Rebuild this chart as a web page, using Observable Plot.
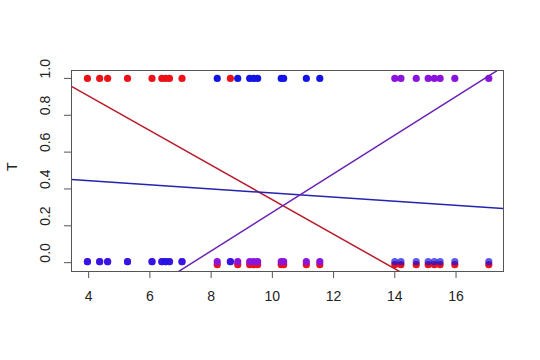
<!DOCTYPE html>
<html>
<head>
<meta charset="utf-8">
<script src="https://cdn.jsdelivr.net/npm/d3@7"></script>
<script src="https://cdn.jsdelivr.net/npm/@observablehq/plot@0.6"></script>
<style>
  html, body { margin: 0; padding: 0; background: #fff; }
  svg { display: block; }
</style>
</head>
<body>
<div id="chart"></div>
<script>
// Shared x values
const xs = [3.96, 4.36, 4.62, 5.27, 6.07, 6.39, 6.51, 6.64, 7.05, 8.20, 8.63, 8.87, 9.26, 9.39, 9.52,
            10.29, 10.37, 11.11, 11.55, 14.0, 14.2, 14.7, 15.09, 15.29, 15.48, 15.96, 17.07];
// Binary responses for three series
const tRed    = [1,1,1,1,1,1,1,1,1,0,1,0,0,0,0,0,0,0,0,0,0,0,0,0,0,0,0];
const tBlue   = [0,0,0,0,0,0,0,0,0,1,0,1,1,1,1,1,1,1,1,0,0,0,0,0,0,0,0];
const tPurple = [0,0,0,0,0,0,0,0,0,0,0,0,0,0,0,0,0,0,0,1,1,1,1,1,1,1,1];

// Fitted straight lines (intercept, slope)
const fitNames = ["red", "blue", "purple"];
const fitIntercepts = [1.280, 0.490, -0.775];
const fitSlopes = [-0.0938, -0.0112, 0.1048];

const xTicks = [4, 6, 8, 10, 12, 14, 16];
const yTicks = [0, 0.2, 0.4, 0.6, 0.8, 1.0];
const yLabel = "T";

const pointColors = {red: "#ec1218", blue: "#1414e6", purple: "#8a14dc"};
const lineColors = {red: "#b81c2c", blue: "#2424b0", purple: "#6a24b4"};
const bottomOffset = {red: 2, blue: -1, purple: -1};
const bottomOpacity = {red: 1, purple: 1, blue: 0.7};
const bottomOrder = ["red", "purple", "blue"];

const xDomain = [3.44, 17.55];
const yDomain = [-0.048, 1.043];

const series = {red: tRed, blue: tBlue, purple: tPurple};
const pts = [];
for (const s of fitNames) {
  series[s].forEach((t, i) => pts.push({x: xs[i], y: t, s}));
}
const fitLines = [];
fitNames.forEach((s, k) => {
  for (const x of xDomain) fitLines.push({x, y: fitIntercepts[k] + fitSlopes[k] * x, s});
});

const font = "Liberation Sans, Arial, sans-serif";

const chart = Plot.plot({
  width: 540,
  height: 360,
  marginLeft: 71,
  marginRight: 37,
  marginTop: 70,
  marginBottom: 89,
  style: {fontFamily: font, fontSize: "14px", color: "#222", background: "#fff"},
  x: {domain: xDomain},
  y: {domain: yDomain},
  marks: [
    ...fitNames.map(s => Plot.dot(pts.filter(d => d.s === s && d.y === 1), {
      x: "x", y: "y", r: 3.6, fill: pointColors[s], stroke: "none"
    })),
    ...bottomOrder.map(s => Plot.dot(pts.filter(d => d.s === s && d.y === 0), {
      x: "x", y: "y", r: 3.6, fill: pointColors[s], stroke: "none",
      fillOpacity: bottomOpacity[s], dy: bottomOffset[s]
    })),
    ...fitNames.map(s => Plot.line(fitLines.filter(d => d.s === s), {
      x: "x", y: "y", stroke: lineColors[s], strokeWidth: 1.5, clip: true
    })),
    Plot.frame({stroke: "#555", strokeWidth: 1}),
    Plot.axisX({ticks: xTicks, tickSize: 7, tickPadding: 13, stroke: "#555", fontSize: 14, label: null}),
    Plot.axisY({ticks: yTicks, tickSize: 7, tickFormat: () => "", stroke: "#555", label: null}),
    Plot.text(yTicks, {y: d => d, text: d => d3.format(".1f")(d), frameAnchor: "left", dx: -26,
      rotate: -90, fontSize: 14, fill: "#222"}),
    Plot.text([yLabel], {frameAnchor: "left", dx: -59, rotate: -90, fontSize: 14, fill: "#222"})
  ]
});
document.getElementById("chart").appendChild(chart);
</script>
</body>
</html>
